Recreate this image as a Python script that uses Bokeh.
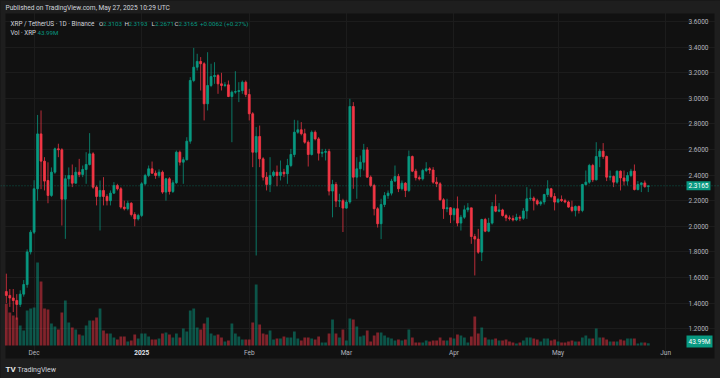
import pandas as pd
from bokeh.plotting import figure
from bokeh.models import (ColumnDataSource, Range1d, FixedTicker, PrintfTickFormatter,
                          Span, Label, BoxAnnotation, GlobalInlineStyleSheet)
from bokeh.embed import file_html
from bokeh.resources import INLINE

# ---------------- data (XRP / TetherUS, 1D, Binance) ----------------
first_day = "2024-11-23"
last_day = "2025-05-27"

opens = [
    1.49, 1.46, 1.44, 1.42, 1.39, 1.47, 1.545, 1.80,
    1.954, 2.293, 2.722, 2.509, 2.358, 2.241, 2.423, 2.605, 2.598, 2.212,
    2.371, 2.397, 2.337, 2.423, 2.405, 2.444, 2.483, 2.566, 2.306, 2.233,
    2.28, 2.233, 2.20, 2.259, 2.319, 2.293, 2.15, 2.137, 2.18, 2.092, 2.058,
    2.085, 2.332, 2.397, 2.449, 2.415, 2.397, 2.423, 2.267, 2.371, 2.272, 2.34,
    2.579, 2.501, 2.52, 2.665, 3.139, 3.243, 3.288, 3.27, 2.957, 3.10, 3.17,
    3.178, 3.113, 3.10, 3.105, 3.014, 3.048, 3.053, 3.06, 3.126,
    3.03, 2.879, 2.579, 2.702, 2.527, 2.384, 2.327, 2.397, 2.423, 2.397, 2.423,
    2.41, 2.475, 2.561, 2.735, 2.754, 2.723, 2.657, 2.561, 2.735, 2.683, 2.571,
    2.578, 2.585, 2.275, 2.327, 2.197, 2.20,
    2.142, 2.19, 2.936, 2.384, 2.449, 2.501, 2.597, 2.384, 2.319, 2.137, 2.02,
    2.17, 2.24, 2.259, 2.353, 2.389, 2.293, 2.337, 2.28, 2.545, 2.431, 2.38,
    2.371, 2.436, 2.449, 2.44, 2.345, 2.332, 2.207, 2.137, 2.145,
    2.09, 2.137, 2.025, 2.071, 2.129, 2.144, 1.92, 1.90, 1.798, 2.053, 1.962,
    2.025, 2.155, 2.118, 2.128, 2.084, 2.066, 2.06, 2.05, 2.07, 2.063, 2.12,
    2.215, 2.22, 2.20, 2.175, 2.19, 2.248, 2.293, 2.233,
    2.189, 2.21, 2.20, 2.19, 2.15, 2.124, 2.155, 2.124, 2.326, 2.345, 2.475,
    2.363, 2.545, 2.587, 2.545, 2.384, 2.39, 2.345, 2.431, 2.378, 2.353, 2.397,
    2.431, 2.287, 2.326, 2.339, 2.3103,
]
highs = [
    1.63, 1.51, 1.51, 1.47, 1.50, 1.58, 1.82, 1.97,
    2.36, 2.87, 2.905, 2.54, 2.50, 2.46, 2.615, 2.645, 2.61, 2.40,
    2.46, 2.483, 2.462, 2.527, 2.475, 2.579, 2.728, 2.579, 2.32, 2.358,
    2.384, 2.25, 2.28, 2.345, 2.332, 2.306, 2.20, 2.20, 2.189, 2.11, 2.098,
    2.345, 2.41, 2.475, 2.506, 2.436, 2.445, 2.436, 2.379, 2.384, 2.36,
    2.592, 2.592, 2.54, 2.696, 3.165, 3.394, 3.348, 3.322, 3.282, 3.36, 3.27,
    3.282, 3.191, 3.199, 3.126, 3.139, 3.061, 3.212, 3.126, 3.139, 3.139,
    3.074, 2.892, 2.775, 2.787, 2.54, 2.423, 2.54, 2.436, 2.475, 2.514, 2.449,
    2.527, 2.605, 2.832, 2.827, 2.814, 2.762, 2.671, 2.749, 2.749, 2.697, 2.605,
    2.605, 2.605, 2.363, 2.345, 2.254, 2.215,
    2.207, 2.996, 2.97, 2.54, 2.553, 2.644, 2.618, 2.397, 2.332, 2.15, 2.215,
    2.267, 2.28, 2.371, 2.475, 2.41, 2.358, 2.345, 2.592, 2.553, 2.449, 2.397,
    2.449, 2.501, 2.462, 2.462, 2.384, 2.345, 2.22, 2.215, 2.15,
    2.145, 2.233, 2.089, 2.163, 2.181, 2.144, 1.941, 1.98, 2.059, 2.066, 2.066,
    2.189, 2.249, 2.181, 2.137, 2.098, 2.085, 2.085, 2.098, 2.085, 2.142,
    2.306, 2.293, 2.233, 2.215, 2.20, 2.254, 2.36, 2.30, 2.259,
    2.22, 2.241, 2.215, 2.20, 2.20, 2.163, 2.163, 2.332, 2.436, 2.488, 2.488,
    2.657, 2.605, 2.65, 2.553, 2.436, 2.397, 2.436, 2.436, 2.436, 2.423, 2.449,
    2.483, 2.353, 2.345, 2.358, 2.3193,
]
lows = [
    1.40, 1.37, 1.33, 1.27, 1.37, 1.45, 1.52, 1.78,
    1.94, 2.20, 2.29, 2.28, 2.18, 2.23, 2.41, 2.54, 2.006, 1.902,
    2.31, 2.306, 2.332, 2.384, 2.384, 2.332, 2.475, 2.293, 2.163, 1.967,
    2.163, 2.163, 2.163, 2.254, 2.28, 2.137, 2.124, 2.124, 2.077, 2.0, 2.045,
    2.072, 2.32, 2.384, 2.41, 2.371, 2.38, 2.254, 2.20, 2.248, 2.26,
    2.332, 2.475, 2.332, 2.514, 2.645, 3.126, 3.217, 3.061, 2.827, 2.905, 3.087,
    3.113, 3.035, 3.061, 3.087, 3.009, 2.657, 3.035, 2.97, 3.035, 3.009,
    2.827, 2.462, 1.772, 2.462, 2.358, 2.28, 2.267, 2.384, 2.313, 2.358, 2.384,
    2.332, 2.462, 2.54, 2.723, 2.71, 2.645, 2.467, 2.553, 2.671, 2.514, 2.54,
    2.514, 2.241, 2.07, 2.15, 2.15, 1.955,
    2.137, 2.176, 2.293, 2.215, 2.384, 2.436, 2.379, 2.306, 2.085, 1.99, 1.90,
    2.15, 2.215, 2.241, 2.345, 2.267, 2.28, 2.228, 2.267, 2.423, 2.358, 2.358,
    2.358, 2.423, 2.41, 2.332, 2.306, 2.20, 2.058, 2.11, 2.025,
    2.045, 2.0, 1.967, 2.058, 2.11, 1.863, 1.616, 1.785, 1.728, 1.954, 1.954,
    2.014, 2.11, 2.11, 2.076, 2.04, 2.045, 2.038, 2.04, 2.04, 2.05,
    2.058, 2.20, 2.124, 2.163, 2.16, 2.17, 2.228, 2.22, 2.124,
    2.18, 2.19, 2.18, 2.145, 2.11, 2.077, 2.10, 2.11, 2.319, 2.332, 2.345,
    2.358, 2.462, 2.527, 2.353, 2.358, 2.306, 2.332, 2.28, 2.319, 2.319, 2.384,
    2.28, 2.28, 2.267, 2.30, 2.2671,
]
closes = [
    1.46, 1.44, 1.42, 1.39, 1.47, 1.545, 1.80, 1.954,
    2.293, 2.722, 2.509, 2.353, 2.241, 2.423, 2.605, 2.598, 2.212, 2.371,
    2.397, 2.337, 2.423, 2.405, 2.444, 2.483, 2.566, 2.306, 2.233, 2.28,
    2.233, 2.20, 2.259, 2.319, 2.293, 2.15, 2.137, 2.18, 2.092, 2.058, 2.085,
    2.332, 2.397, 2.449, 2.415, 2.397, 2.423, 2.267, 2.371, 2.272, 2.34,
    2.579, 2.501, 2.52, 2.665, 3.139, 3.243, 3.288, 3.27, 2.957, 3.10, 3.17,
    3.178, 3.113, 3.10, 3.105, 3.014, 3.048, 3.053, 3.06, 3.126, 3.03,
    2.879, 2.579, 2.702, 2.527, 2.384, 2.327, 2.397, 2.423, 2.397, 2.423, 2.41,
    2.475, 2.561, 2.735, 2.754, 2.723, 2.657, 2.561, 2.735, 2.683, 2.571, 2.578,
    2.585, 2.275, 2.327, 2.197, 2.20, 2.142,
    2.19, 2.936, 2.384, 2.449, 2.501, 2.597, 2.384, 2.319, 2.137, 2.02, 2.17,
    2.24, 2.259, 2.353, 2.389, 2.293, 2.337, 2.28, 2.545, 2.431, 2.38, 2.371,
    2.436, 2.449, 2.44, 2.345, 2.332, 2.207, 2.137, 2.145, 2.09,
    2.137, 2.025, 2.071, 2.129, 2.144, 1.92, 1.90, 1.798, 2.053, 1.962, 2.025,
    2.155, 2.118, 2.128, 2.084, 2.066, 2.06, 2.05, 2.07, 2.063, 2.12,
    2.215, 2.22, 2.20, 2.175, 2.19, 2.248, 2.293, 2.233, 2.189,
    2.21, 2.20, 2.19, 2.15, 2.124, 2.155, 2.124, 2.326, 2.345, 2.475, 2.363,
    2.545, 2.587, 2.545, 2.384, 2.39, 2.345, 2.431, 2.378, 2.353, 2.397, 2.431,
    2.287, 2.326, 2.339, 2.3103, 2.3165,
]
volumes_m = [
    834, 660, 600, 560, 400, 300, 700, 740,
    760, 1660, 1280, 740, 720, 440, 380, 320, 660, 900,
    460, 360, 320, 220, 200, 400, 500, 500, 560, 740,
    300, 240, 240, 160, 120, 180, 180, 80, 100, 220, 140,
    240, 240, 180, 120, 120, 140, 240, 260, 220, 160,
    240, 160, 340, 280, 700, 740, 360, 320, 440, 560, 240,
    200, 220, 160, 80, 100, 440, 240, 180, 120, 120,
    120, 460, 1220, 420, 240, 220, 300, 120, 140, 140, 180,
    160, 160, 280, 140, 100, 160, 160, 140, 120, 180, 60,
    60, 240, 520, 240, 160, 320,
    100, 540, 520, 380, 180, 200, 300, 80, 200, 260, 260,
    200, 160, 140, 100, 120, 100, 120, 320, 160, 60, 60,
    60, 100, 80, 100, 100, 160, 100, 100, 160,
    140, 220, 200, 160, 60, 180, 580, 240, 360, 160, 120,
    120, 140, 100, 100, 120, 80, 60, 40, 60, 100,
    160, 160, 140, 120, 80, 140, 140, 100, 120,
    80, 60, 60, 80, 100, 80, 80, 160, 200, 140, 140,
    340, 160, 160, 120, 80, 80, 80, 120, 100, 140, 140,
    140, 40, 60, 60, 43.99,
]
price_ticks = [1.2, 1.4, 1.6, 1.8, 2.0, 2.2, 2.4, 2.6, 2.8, 3.0, 3.2, 3.4, 3.6]
month_starts = ["2024-12-01", "2025-01-01", "2025-02-01", "2025-03-01",
                "2025-04-01", "2025-05-01", "2025-06-01"]
month_labels = ["Dec", "2025", "Feb", "Mar", "Apr", "May", "Jun"]

# ---------------- layout / styling ----------------
W, H = 720, 378
UP = "#089981"
DOWN = "#F23645"
BG = "#111111"
FRAME = "#1e1e1e"
GRID = "#1c1c1c"
AXIS_TXT = "#b2b5be"
LEG_TXT = "#d1d4dc"
FONT = "Roboto"

X0_PX, PX_PER_DAY = 33.6, 3.47          # pixel of first month tick, pixels per day
Y0_PX, Y0_PRICE, PX_PER_UNIT = 21.0, 3.6, 128.0
VOL_BASE_PX, VOL_PER_PX = 345.0, 20.0   # volume zero line, millions per pixel
PLOT_RIGHT_PX, PLOT_LEFT_PX, PLOT_TOP_PX = 682.0, 6.0, 14.0

def px_x(sx):
    return (sx - X0_PX) / PX_PER_DAY

def px_price(sy):
    return Y0_PRICE - (sy - Y0_PX) / PX_PER_UNIT

dates = pd.date_range(first_day, last_day, freq="D")
n = len(dates)
assert all(len(a) == n for a in (opens, highs, lows, closes, volumes_m))
origin = pd.Timestamp(month_starts[0])
xs = [(d - origin).days for d in dates]
colors = [UP if c >= o else DOWN for o, c in zip(opens, closes)]

src = ColumnDataSource(dict(
    x=xs, h=highs, l=lows, v=volumes_m,
    top=[max(o, c) for o, c in zip(opens, closes)],
    bottom=[min(o, c) for o, c in zip(opens, closes)],
    color=colors,
))

p = figure(width=W, height=H, output_backend="svg", toolbar_location=None, title=None,
           x_range=Range1d(px_x(0), px_x(W)), y_range=Range1d(px_price(H), px_price(0)),
           y_axis_location="right", x_axis_location="below",
           min_border_left=0, min_border_right=0, min_border_top=0, min_border_bottom=0)
p.background_fill_color = BG
p.border_fill_color = BG
p.outline_line_color = None
p.stylesheets = [GlobalInlineStyleSheet(css="html, body { background-color: %s; }" % FRAME)]
p.extra_y_ranges = {"vol": Range1d(-(H - VOL_BASE_PX) * VOL_PER_PX, VOL_BASE_PX * VOL_PER_PX)}

# frame bands (header, footer, side strips) under everything else
def band(left, right, bottom, top):
    p.add_layout(BoxAnnotation(left=left, right=right, bottom=bottom, top=top,
                               left_units="screen", right_units="screen",
                               bottom_units="screen", top_units="screen",
                               fill_color=FRAME, fill_alpha=1.0, line_color=None,
                               level="underlay"))

band(0, W, H - 13, H)          # header
band(0, W, 0, H - 358)         # footer
band(0, 5, 0, H)               # left strip
band(714, W, 0, H)             # right strip

# grid
month_x = [(pd.Timestamp(m) - origin).days for m in month_starts]
p.xgrid.ticker = FixedTicker(ticks=month_x)
p.ygrid.ticker = FixedTicker(ticks=price_ticks)
p.xgrid.grid_line_color = GRID
p.ygrid.grid_line_color = GRID
p.xgrid.bounds = (px_price(VOL_BASE_PX), px_price(PLOT_TOP_PX))
p.ygrid.bounds = (px_x(PLOT_LEFT_PX), px_x(PLOT_RIGHT_PX))

# axes (drawn inside the canvas at the pane edges)
xa = p.xaxis[0]
xa.ticker = FixedTicker(ticks=month_x)
overrides = {mx: lab for mx, lab in zip(month_x, month_labels)}
year_idx = month_labels.index("2025")
overrides[month_x[year_idx]] = " "     # the year label is drawn bold below
xa.major_label_overrides = overrides
xa.fixed_location = px_price(VOL_BASE_PX)
ya = p.yaxis[0]
ya.ticker = FixedTicker(ticks=price_ticks)
ya.formatter = PrintfTickFormatter(format="%.4f")
ya.fixed_location = px_x(PLOT_RIGHT_PX)
for ax in (xa, ya):
    ax.axis_line_color = None
    ax.major_tick_line_color = None
    ax.minor_tick_line_color = None
    ax.major_tick_out = 0
    ax.major_tick_in = 0
    ax.minor_tick_out = 0
    ax.minor_tick_in = 0
    ax.major_label_text_color = AXIS_TXT
    ax.major_label_text_font = FONT
    ax.major_label_text_font_size = "6.5px"
xa.major_label_standoff = 3
ya.major_label_standoff = 6

# bold year label on the time scale
p.add_layout(Label(x=month_x[year_idx], y=H - 352, x_units="data", y_units="screen",
                   text=month_labels[year_idx], text_color="#e0e3eb", text_font=FONT,
                   text_font_size="6.5px", text_font_style="bold",
                   text_align="center", text_baseline="middle"))

# volume bars
p.vbar(x="x", width=0.8, top="v", bottom=0, source=src, y_range_name="vol",
       fill_color="color", fill_alpha=0.5, line_color=None)

# last price line
p.add_layout(Span(location=closes[-1], dimension="width", line_color=UP,
                  line_alpha=0.55, line_dash="1 2", line_width=1))

# candles
p.segment(x0="x", y0="h", x1="x", y1="l", source=src, line_color="color",
          line_alpha=0.75, line_width=1)
p.vbar(x="x", width=0.55, top="top", bottom="bottom", source=src,
       fill_color="color", line_color="color", line_width=0.8)

def txt(sx, sy, text, color, size="6.2px", style="normal"):
    p.add_layout(Label(x=sx, y=H - sy, x_units="screen", y_units="screen", text=text,
                       text_color=color, text_font=FONT, text_font_size=size,
                       text_font_style=style, text_baseline="middle"))

# header
txt(5, 7, "Published on TradingView.com, May 27, 2025 10:29 UTC", LEG_TXT, "6.6px")
# legend
chg = closes[-1] - closes[-2]
txt(10, 23, "XRP / TetherUS · 1D · Binance", LEG_TXT, "6.4px")
parts = [(98.5, "O", LEG_TXT), (102.5, f"{opens[-1]:.4f}", UP),
         (124, "H", LEG_TXT), (128, f"{highs[-1]:.4f}", UP),
         (151, "L", LEG_TXT), (154.5, f"{lows[-1]:.4f}", UP),
         (174, "C", LEG_TXT), (178, f"{closes[-1]:.4f}", UP),
         (199.5, f"+{chg:.4f} (+{chg / closes[-2] * 100:.2f}%)", UP)]
for sx, t, col in parts:
    txt(sx, 23, t, col)
txt(10, 32, "Vol · XRP", LEG_TXT, "6.3px")
txt(37, 32, f"{volumes_m[-1]:.2f}M", UP)

# price / volume tags on the scale
for y, yu, t in [(closes[-1], "data", f"{closes[-1]:.4f}"),
                 (H - 341, "screen", f"{volumes_m[-1]:.2f}M")]:
    p.add_layout(Label(x=686, y=y, x_units="screen", y_units=yu, text=t,
                       text_color="white", text_font=FONT, text_font_size="6.5px",
                       text_baseline="middle", background_fill_color=UP, padding=2))

# footer logo
txt(5, 369, "TV", "#e6e6e6", "8px", "bold")
txt(17, 369, "TradingView", LEG_TXT, "7px")

open("out.html", "w").write(file_html(p, INLINE))
